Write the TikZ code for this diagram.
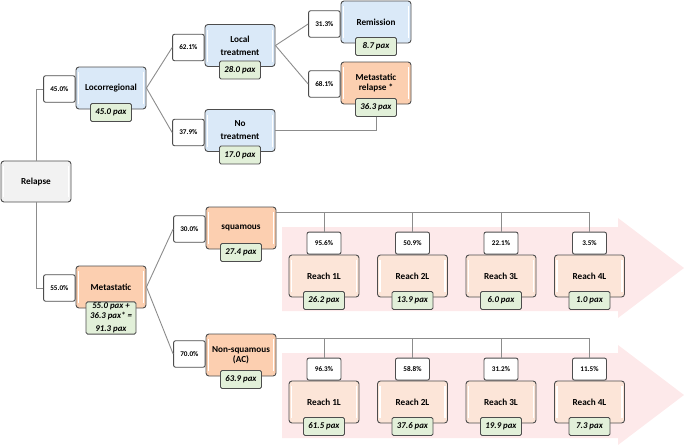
\documentclass[tikz,border=0pt]{standalone}
\usepackage{fontspec}
\setmainfont{Carlito}
\usepackage{xcolor}
\usetikzlibrary{positioning}

\definecolor{edgegray}{HTML}{4D4D4D}
\definecolor{linkgray}{HTML}{8C8C8C}
\definecolor{boxblue}{HTML}{DAE9F8}
\definecolor{boxorange}{HTML}{FCCFB0}
\definecolor{boxpeach}{HTML}{FCE5D8}
\definecolor{boxgrey}{HTML}{F2F2F2}
\definecolor{paxgreen}{HTML}{E2F0D9}
\definecolor{bandpink}{HTML}{FDE9EA}

\begin{document}
\begin{tikzpicture}[x=1pt,y=-1pt,
  box/.style={draw=edgegray,line width=0.9pt,rounded corners=3pt,minimum width=70pt,minimum height=42pt,
    inner sep=1pt,align=center,font=\bfseries\fontsize{9.2}{13}\selectfont,
    path picture={\draw[white,line width=1.2pt]
      ([xshift=2.5pt,yshift=-5pt]path picture bounding box.north west) -- ([xshift=2.5pt,yshift=5pt]path picture bounding box.south west)
      ([xshift=-2.5pt,yshift=-5pt]path picture bounding box.north east) -- ([xshift=-2.5pt,yshift=5pt]path picture bounding box.south east);}},
  bluebox/.style={box,fill=boxblue},
  orangebox/.style={box,fill=boxorange,font=\bfseries\fontsize{9.2}{10}\selectfont},
  reachbox/.style={box,fill=boxpeach},
  greybox/.style={box,fill=boxgrey,minimum height=41pt},
  pct/.style={draw=edgegray,line width=0.9pt,fill=white,rounded corners=2pt,minimum width=31.5pt,
    minimum height=26.5pt,inner sep=0pt,font=\bfseries\fontsize{7.2}{8}\selectfont},
  pctup/.style={pct,minimum width=34pt,minimum height=22pt},
  pax/.style={draw=edgegray,line width=0.9pt,fill=paxgreen,rounded corners=1.5pt,minimum width=41pt,
    minimum height=18pt,inner sep=1pt,align=center,font=\bfseries\itshape\fontsize{8.8}{9.5}\selectfont},
  link/.style={draw=linkgray,line width=0.9pt}]
\useasboundingbox (0,0) rectangle (685,447);

% line-of-therapy bands
\fill[bandpink] (282,227) -- (618,227) -- (618,218) -- (684,268) -- (618,318) -- (618,311) -- (282,311) -- cycle;
\fill[bandpink] (282,353) -- (618,353) -- (618,345) -- (684,395) -- (618,445) -- (618,438) -- (282,438) -- cycle;

% root
\node[greybox] (relapse) at (36,181.5) {Relapse};

% locorregional branch
\node[bluebox] (loco) at (111,88) {Locorregional};
\node[pct,left=0pt of loco,yshift=-1pt] (p450) {45.0\%};
\node[pax,yshift=-3pt] (locopax) at (loco.south) {45.0 pax};

\node[bluebox] (localtx) at (240,45.5) {Local\\treatment};
\node[pct,left=0pt of localtx,yshift=-2pt] (p621) {62.1\%};
\node[pax,yshift=-3pt] (localtxpax) at (localtx.south) {28.0 pax};

\node[bluebox] (notx) at (240,130.5) {No\\treatment};
\node[pct,left=0pt of notx,yshift=-2pt] (p379) {37.9\%};
\node[pax,yshift=-3pt] (notxpax) at (notx.south) {17.0 pax};

\node[bluebox] (remission) at (376,22) {Remission};
\node[pct,left=0pt of remission,yshift=-2pt] (p313) {31.3\%};
\node[pax,yshift=-3pt] (remissionpax) at (remission.south) {8.7 pax};

\node[orangebox] (metrel) at (376,83) {Metastatic\\relapse *};
\node[pct,left=0pt of metrel,yshift=-1pt] (p681) {68.1\%};
\node[pax,yshift=-3pt] (metrelpax) at (metrel.south) {36.3 pax};

% metastatic branch
\node[orangebox] (meta) at (111,287) {Metastatic};
\node[pct,left=0pt of meta,yshift=-1pt] (p550) {55.0\%};
\node[pax,anchor=north,yshift=7pt,minimum width=50pt] (metapax) at (meta.south) {55.0 pax +\\36.3 pax* =\\[4pt]91.3 pax};

\node[orangebox] (squam) at (241,228) {squamous};
\node[pct,left=0pt of squam,yshift=-1pt] (p300) {30.0\%};
\node[pax,yshift=-3pt] (squampax) at (squam.south) {27.4 pax};

\node[orangebox] (nonsquam) at (241,355) {Non-squamous\\(AC)};
\node[pct,left=0pt of nonsquam,yshift=1pt] (p700) {70.0\%};
\node[pax,yshift=-3pt] (nonsquampax) at (nonsquam.south) {63.9 pax};

% squamous lines
\node[reachbox] (sqA) at (324,276) {Reach 1L};
\node[pctup,above=0pt of sqA] (psqA) {95.6\%};
\node[pax,yshift=-3pt] (sqApax) at (sqA.south) {26.2 pax};
\node[reachbox] (sqB) at (412.5,276) {Reach 2L};
\node[pctup,above=0pt of sqB] (psqB) {50.9\%};
\node[pax,yshift=-3pt] (sqBpax) at (sqB.south) {13.9 pax};
\node[reachbox] (sqC) at (501,276) {Reach 3L};
\node[pctup,above=0pt of sqC] (psqC) {22.1\%};
\node[pax,yshift=-3pt] (sqCpax) at (sqC.south) {6.0 pax};
\node[reachbox] (sqD) at (589.5,276) {Reach 4L};
\node[pctup,above=0pt of sqD] (psqD) {3.5\%};
\node[pax,yshift=-3pt] (sqDpax) at (sqD.south) {1.0 pax};

% non-squamous lines
\node[reachbox] (nsA) at (324,402) {Reach 1L};
\node[pctup,above=0pt of nsA] (pnsA) {96.3\%};
\node[pax,yshift=-3pt] (nsApax) at (nsA.south) {61.5 pax};
\node[reachbox] (nsB) at (412.5,402) {Reach 2L};
\node[pctup,above=0pt of nsB] (pnsB) {58.8\%};
\node[pax,yshift=-3pt] (nsBpax) at (nsB.south) {37.6 pax};
\node[reachbox] (nsC) at (501,402) {Reach 3L};
\node[pctup,above=0pt of nsC] (pnsC) {31.2\%};
\node[pax,yshift=-3pt] (nsCpax) at (nsC.south) {19.9 pax};
\node[reachbox] (nsD) at (589.5,402) {Reach 4L};
\node[pctup,above=0pt of nsD] (pnsD) {11.5\%};
\node[pax,yshift=-3pt] (nsDpax) at (nsD.south) {7.3 pax};

% connectors
\draw[link] (relapse.north) |- (p450.west);
\draw[link] (relapse.south) |- (p550.west);
\draw[link] (loco.east) -- (p621.west);
\draw[link] (loco.east) -- (p379.west);
\draw[link] (localtx.east) -- (p313.west);
\draw[link] (localtx.east) -- (p681.west);
\draw[link] (notx.east) -| (metrelpax.south);
\draw[link] (meta.east) -- (p300.west);
\draw[link] (meta.east) -- (p700.west);

\coordinate[yshift=-6pt] (sqbus) at (squam.north east);
\draw[link] (sqbus) -| (psqD.north);
\draw[link] (psqA.north) -- (psqA.north |- sqbus);
\draw[link] (psqB.north) -- (psqB.north |- sqbus);
\draw[link] (psqC.north) -- (psqC.north |- sqbus);

\coordinate[yshift=-5pt] (nsbus) at (nonsquam.north east);
\draw[link] (nsbus) -| (pnsD.north);
\draw[link] (pnsA.north) -- (pnsA.north |- nsbus);
\draw[link] (pnsB.north) -- (pnsB.north |- nsbus);
\draw[link] (pnsC.north) -- (pnsC.north |- nsbus);
\end{tikzpicture}
\end{document}
